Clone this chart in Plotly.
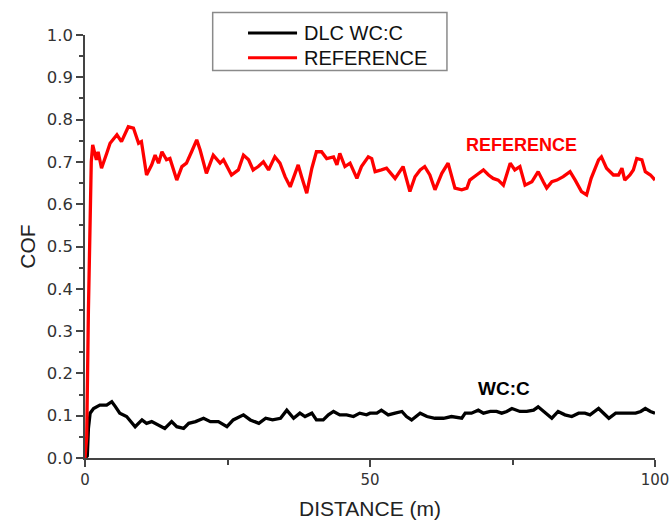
import plotly.graph_objects as go

# Friction coefficient vs sliding distance
ref_distance = [0, 0.3, 0.6, 0.9, 1.1, 1.35, 2.0, 2.3, 2.9, 3.8, 4.4, 5.6, 6.4, 7.6, 8.5, 9.4, 9.9,
                10.8, 11.7, 12.3, 12.9, 13.5, 14.3, 14.9, 16.1, 17.0, 17.8, 18.7, 19.6, 20.2, 21.3,
                22.5, 23.7, 24.3, 25.7, 26.9, 27.8, 28.7, 29.5, 30.4, 31.3, 32.2, 33.3, 34.2, 35.1,
                36.0, 37.4, 38.0, 38.9, 39.8, 40.6, 41.5, 42.4, 43.6, 44.2, 44.7, 45.6, 46.5, 47.7,
                48.5, 49.7, 50.3, 50.9, 52.0, 52.9, 54.4, 55.8, 57.0, 57.9, 58.8, 59.6, 60.5, 61.4,
                62.6, 63.7, 64.9, 66.1, 67.0, 67.5, 68.7, 69.9, 70.8, 71.6, 72.5, 73.4, 74.6, 75.4,
                76.3, 77.2, 78.4, 79.5, 80.4, 81.0, 81.9, 82.8, 83.9, 85.1, 86.0, 87.1, 88.0, 88.8,
                90.1, 90.6, 91.5, 92.7, 93.6, 94.2, 94.7, 95.6, 96.2, 96.8, 97.7, 98.3, 99.2, 100]
ref_cof = [0, 0.05, 0.35, 0.54, 0.70, 0.74, 0.705, 0.724, 0.685, 0.72, 0.744, 0.764, 0.748, 0.783,
           0.78, 0.744, 0.748, 0.669, 0.693, 0.716, 0.697, 0.724, 0.705, 0.708, 0.657, 0.689, 0.697,
           0.724, 0.752, 0.728, 0.673, 0.716, 0.697, 0.705, 0.669, 0.681, 0.716, 0.705, 0.681, 0.689,
           0.700, 0.681, 0.712, 0.697, 0.665, 0.641, 0.693, 0.665, 0.626, 0.685, 0.724, 0.724, 0.708,
           0.712, 0.693, 0.720, 0.689, 0.697, 0.661, 0.689, 0.712, 0.708, 0.677, 0.681, 0.685, 0.661,
           0.689, 0.630, 0.665, 0.681, 0.689, 0.669, 0.634, 0.673, 0.697, 0.638, 0.634, 0.638, 0.657,
           0.669, 0.681, 0.669, 0.661, 0.657, 0.645, 0.697, 0.681, 0.689, 0.645, 0.653, 0.677, 0.653,
           0.638, 0.653, 0.657, 0.665, 0.677, 0.657, 0.630, 0.622, 0.661, 0.705, 0.712, 0.685, 0.669,
           0.669, 0.685, 0.657, 0.669, 0.681, 0.708, 0.705, 0.677, 0.669, 0.657]

wcc_distance = [0, 0.4, 0.6, 0.9, 1.5, 2.6, 3.8, 4.7, 5.3, 6.1, 7.3, 8.8, 10.0, 10.8, 11.7, 12.9,
                14.0, 15.2, 16.1, 17.3, 18.2, 19.4, 20.8, 22.0, 23.4, 24.9, 26.0, 27.8, 29.0, 30.5,
                31.7, 32.9, 34.3, 35.4, 36.6, 37.7, 38.6, 39.8, 40.6, 41.8, 42.7, 43.6, 44.7, 45.9,
                47.1, 48.2, 49.4, 50.0, 51.2, 52.0, 53.2, 54.4, 55.6, 56.4, 57.3, 58.8, 60.0, 61.4,
                62.9, 64.3, 66.1, 66.7, 67.8, 69.0, 69.9, 71.1, 72.2, 73.1, 74.0, 74.9, 76.3, 77.5,
                78.7, 79.5, 80.4, 81.9, 83.0, 84.2, 85.4, 86.6, 87.7, 88.6, 90.1, 91.0, 91.9, 93.1,
                94.2, 95.4, 96.6, 97.5, 98.3, 99.2, 100]
wcc_cof = [0, 0.005, 0.07, 0.106, 0.117, 0.125, 0.125, 0.133, 0.122, 0.106, 0.098, 0.074, 0.090,
           0.082, 0.086, 0.078, 0.070, 0.086, 0.074, 0.070, 0.082, 0.086, 0.094, 0.086, 0.086, 0.074,
           0.090, 0.102, 0.090, 0.082, 0.094, 0.090, 0.094, 0.113, 0.094, 0.106, 0.098, 0.106, 0.090,
           0.090, 0.102, 0.110, 0.102, 0.102, 0.098, 0.106, 0.102, 0.106, 0.106, 0.113, 0.102, 0.106,
           0.110, 0.098, 0.090, 0.106, 0.098, 0.094, 0.094, 0.098, 0.094, 0.106, 0.106, 0.113, 0.106,
           0.110, 0.110, 0.106, 0.110, 0.117, 0.110, 0.110, 0.113, 0.121, 0.110, 0.094, 0.110, 0.102,
           0.098, 0.106, 0.106, 0.102, 0.117, 0.106, 0.094, 0.106, 0.106, 0.106, 0.106, 0.110, 0.117,
           0.110, 0.106]

y_ticks = [0.0, 0.1, 0.2, 0.3, 0.4, 0.5, 0.6, 0.7, 0.8, 0.9, 1.0]
x_ticks = [0, 50, 100]

series_names = ["DLC WC:C", "REFERENCE"]
series_colors = ["black", "#ff0000"]

font_family = "Liberation Sans, Arial, sans-serif"
tick_family = "DejaVu Sans, sans-serif"

fig = go.Figure()
fig.add_trace(go.Scatter(x=wcc_distance, y=wcc_cof, mode="lines", name=series_names[0],
                         line=dict(color=series_colors[0], width=3.3), showlegend=False))
fig.add_trace(go.Scatter(x=ref_distance, y=ref_cof, mode="lines", name=series_names[1],
                         line=dict(color=series_colors[1], width=3.3), showlegend=False))

# In-plot curve labels
fig.add_annotation(x=76.5, y=0.74, text="<b>REFERENCE</b>", showarrow=False,
                   font=dict(family=font_family, size=18, color="#ff0000"))
fig.add_annotation(x=73.5, y=0.165, text="<b>WC:C</b>", showarrow=False,
                   font=dict(family=font_family, size=19, color="black"))

# Boxed key above the plot area
box_x0, box_x1, box_y0, box_y1 = 0.224, 0.635, 0.916, 1.053
sample_x0, sample_x1 = 0.286, 0.372
row_y = [1.005, 0.946]
fig.add_shape(type="rect", xref="paper", yref="paper", x0=box_x0, x1=box_x1, y0=box_y0, y1=box_y1,
              line=dict(color="#8a8a8a", width=1.5), fillcolor="white", layer="above")
for name, color, yy in zip(series_names, series_colors, row_y):
    fig.add_shape(type="line", xref="paper", yref="paper", x0=sample_x0, x1=sample_x1, y0=yy, y1=yy,
                  line=dict(color=color, width=3), layer="above")
    fig.add_annotation(xref="paper", yref="paper", x=sample_x1 + 0.008, y=yy, xanchor="left",
                       yanchor="middle", text=name, showarrow=False,
                       font=dict(family=font_family, size=20, color="#111111"))

axis_common = dict(showline=True, linecolor="#444444", linewidth=1.5, mirror=False,
                   showgrid=False, zeroline=False, ticks="outside", tickcolor="#444444",
                   tickwidth=1.5, ticklen=7, automargin=False, ticklabeloverflow="allow")

fig.update_xaxes(range=[0, 100], tickvals=x_ticks, ticktext=[str(v) for v in x_ticks],
                 tickfont=dict(family=tick_family, size=15, color="#333333"),
                 title=dict(text="DISTANCE (m)", font=dict(family=font_family, size=21, color="#222222"),
                            standoff=14),
                 minor=dict(tickvals=[25, 75], ticks="outside", ticklen=5, tickcolor="#444444",
                            tickwidth=1.5),
                 **axis_common)
fig.update_yaxes(range=[0, 1.0], tickvals=y_ticks, ticktext=[f"{v:.1f}" for v in y_ticks],
                 tickfont=dict(family=tick_family, size=16.5, color="#333333"),
                 title=dict(text="COF", font=dict(family=font_family, size=21, color="#222222"),
                            standoff=5),
                 minor=dict(dtick=0.05, ticks="outside", ticklen=4, tickcolor="#444444",
                            tickwidth=1.5),
                 **axis_common)

fig.update_layout(
    width=669, height=525,
    margin=dict(l=85, r=14, t=35, b=67),
    paper_bgcolor="white", plot_bgcolor="white",
    showlegend=False,
)

fig.write_html("out.html")
